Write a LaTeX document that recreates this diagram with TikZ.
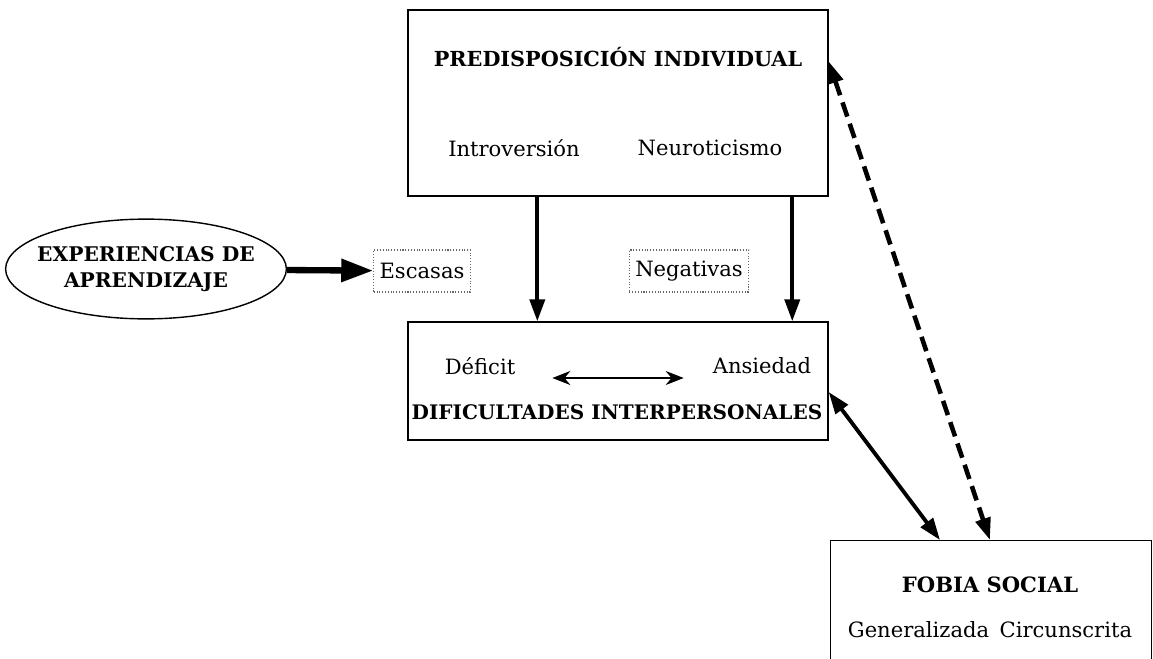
\documentclass[tikz,border=0pt]{standalone}
\usepackage{fontspec}
\setmainfont{DejaVu Serif}
\usetikzlibrary{arrows.meta,shapes.geometric}

\begin{document}
\begin{tikzpicture}[x=0.02cm,y=-0.02cm,auto,font=\fontsize{12}{14}\selectfont]
                    \useasboundingbox (0,0) rectangle (1153,659);
                    \begin{scope}[every node/.style={rectangle,draw=black,line width=0.8pt}]
                        \node[minimum width=8.4cm,minimum height=3.72cm] (P) at (618,103) {};
                        \node[minimum width=8.4cm,minimum height=2.36cm] (D) at (618,381) {};
                        \node[minimum width=6.42cm,minimum height=2.9cm,anchor=north west] (F) at (830,540) {};
                        \node[ellipse,inner xsep=-0.19cm,inner ysep=0.25cm,align=center,font=\fontsize{11.5}{15}\selectfont\bfseries] (E) at (146,269) {EXPERIENCIAS DE\\APRENDIZAJE};
                    \end{scope}
                    \begin{scope}[every node/.style={draw=black!60,densely dotted,line width=0.6pt,minimum width=1.76cm,minimum height=0.84cm}]
                        \node (Es) at (422,271) {Escasas};
                        \node (Ne) at (689,271) {Negativas};
                    \end{scope}
                    \begin{scope}[every node/.style={inner sep=1pt}]
                        \node[font=\fontsize{11.8}{14}\selectfont\bfseries] (PT) at (618,57) {PREDISPOSICIÓN INDIVIDUAL};
                        \node (In) at (514,148) {Introversión};
                        \node (Nu) at (710,148) {Neuroticismo};
                        \node (De) at (480,366) {Déficit};
                        \node (An) at (762,366) {Ansiedad};
                        \node[font=\fontsize{11.4}{14}\selectfont\bfseries] (DT) at (617,412) {DIFICULTADES INTERPERSONALES};
                        \node[font=\fontsize{12}{14}\selectfont\bfseries] (FT) at (990,585) {FOBIA SOCIAL};
                        \node (Ge) at (990,630) {Generalizada\enspace Circunscrita};
                    \end{scope}
                    \begin{scope}[every edge/.style={draw=black,line width=2.2pt}]
                        \draw ([xshift=2.6cm]P.south west) edge[-{Triangle[length=4.4mm,width=3mm]}] ([xshift=2.6cm]D.north west);
                        \draw ([xshift=7.7cm]P.south west) edge[-{Triangle[length=4.4mm,width=3mm]}] ([xshift=7.7cm]D.north west);
                        \draw (E) edge[line width=3.6pt,-{Triangle[length=6.4mm,width=4.4mm]}] (Es);
                        \draw ([yshift=-0.22cm]D.east) edge[{Triangle[length=4.4mm,width=3mm]}-{Triangle[length=4.4mm,width=3mm]}] ([xshift=2.2cm]F.north west);
                        \draw ([yshift=-1.04cm]P.north east) edge[line width=2.6pt,dash pattern=on 3mm off 1.5mm,{Triangle[length=4.4mm,width=3mm]}-{Triangle[length=4.4mm,width=3mm]}] ([xshift=3.2cm]F.north west);
                        \draw ([shift={(35,12)}]De.east) edge[line width=1.2pt,{Stealth[length=3.6mm,width=2.8mm]}-{Stealth[length=3.6mm,width=2.8mm]}] ([shift={(-27,12)}]An.west);
                    \end{scope}
                \end{tikzpicture}
\end{document}
